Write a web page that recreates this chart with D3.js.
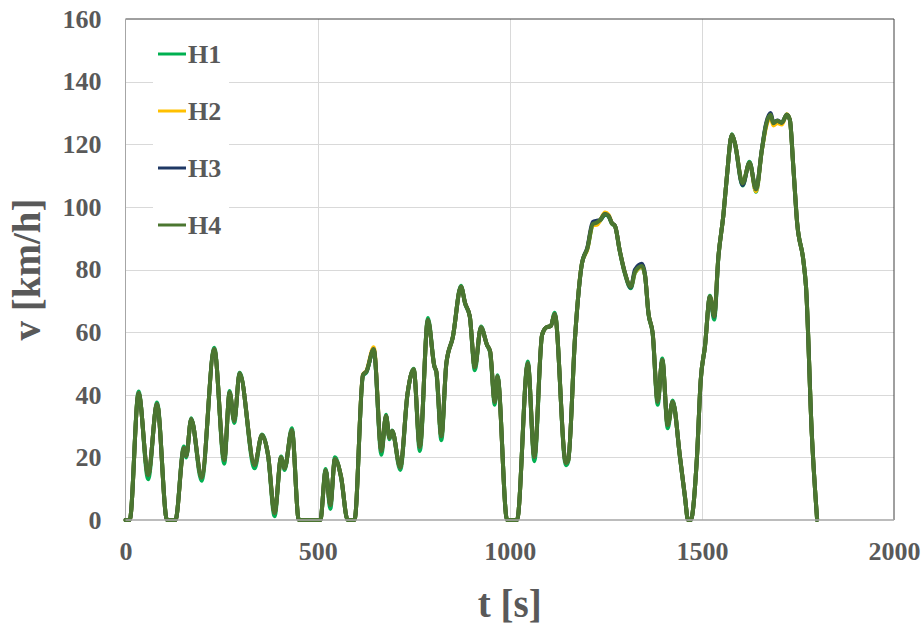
<!DOCTYPE html>
<html>
<head>
  <meta charset="utf-8">
  <title>Speed profile</title>
  <style>
    body { margin: 0; background: #fff; }
    svg { display: block; font-family: "Liberation Serif", "Times New Roman", serif; }
  </style>
</head>
<body>
  <svg id="chart"></svg>

  <script src="https://cdnjs.cloudflare.com/ajax/libs/d3/7.8.5/d3.min.js"></script>
  <script>
    // time axis shared by all four runs [s]
    const times = [
      0, 11, 34, 59, 82, 108, 130, 152, 158, 171,
      198, 231, 257, 271, 283, 297, 336, 355, 371, 388,
      405, 414, 433, 451, 507, 521, 533, 545, 561, 578,
      596, 618, 627, 646, 666, 678, 687, 694, 715, 734,
      750, 766, 787, 804, 809, 822, 835, 852, 873, 884,
      896, 909, 925, 941, 949, 961, 968, 993, 1019, 1047,
      1064, 1084, 1094, 1107, 1117, 1146, 1152, 1170, 1188, 1202,
      1216, 1227, 1235, 1248, 1257, 1266, 1274, 1286, 1300, 1315,
      1326, 1344, 1352, 1361, 1372, 1385, 1397, 1411, 1424, 1443,
      1456, 1464, 1471, 1487, 1497, 1508, 1521, 1532, 1543, 1556,
      1565, 1578, 1586, 1606, 1624, 1641, 1656, 1667, 1679, 1686,
      1696, 1708, 1721, 1729, 1738, 1748, 1764, 1771, 1786, 1800
    ];

    // speeds [km/h]
    const h1 = [
      0, 0, 41, 13, 37.5, 0, 0, 23.5, 20, 32.5,
      12.5, 55, 18, 41.2, 31, 47, 16.5, 27.3, 20.5, 1.2,
      20.3, 16, 29.3, 0, 0, 16.3, 3.5, 20, 13.5, 0,
      0, 46, 47.2, 54.5, 20.8, 33.6, 25.8, 28.6, 16, 40.2,
      48.3, 22, 64.5, 49, 47, 25.5, 50, 58.5, 74.8, 69,
      65, 47.8, 61.8, 55.8, 53.5, 36.8, 46.2, 0, 0, 50.6,
      18.8, 59, 61.4, 62, 66.2, 17.5, 18.6, 58.5, 82, 86.6,
      94.3, 95, 95.6, 97.5, 97, 94.6, 93.8, 86, 78.5, 74,
      79, 80.8, 78, 65.8, 59.4, 36.8, 51.6, 29.3, 38.2, 20,
      7.2, 0, 0, 19.7, 44.7, 55.4, 71.6, 64, 84, 97.4,
      109.5, 123.2, 120.2, 106.8, 114.4, 104.8, 118, 126, 129.2, 126.5,
      127.3, 126.7, 129.5, 127.8, 112.8, 94.8, 83, 74.5, 27.7, 0
    ];
    const h2 = [
      0, 0, 40.5, 14.4, 37, 0, 0, 22.9, 20.4, 32.2,
      13.6, 54.5, 19.2, 40.7, 31.7, 46.8, 17.6, 27.1, 20.8, 2.3,
      20, 16.5, 28.7, 0, 0, 15.8, 4.8, 19.4, 13.8, 0,
      0, 46.5, 47.6, 55.2, 22.1, 33.2, 26.3, 28.4, 16.8, 40.4,
      48.1, 23.4, 63.9, 49, 47.4, 26.8, 50, 58.5, 74.5, 69.2,
      65, 48.8, 61.5, 55.9, 53.8, 37.8, 45.8, 0, 0, 50,
      20.2, 59.1, 61.4, 62, 65.8, 18.3, 19, 58.5, 82, 86.5,
      94.2, 94.3, 95.6, 98.2, 97.5, 94.8, 93.9, 86.2, 78.8, 74.5,
      79.1, 80.9, 78.2, 66, 59.6, 37.8, 51.1, 30.3, 37.8, 20.2,
      7.4, 0, 0, 19.7, 44.7, 55.4, 71.3, 65.6, 84.1, 97.4,
      109.6, 123, 120.3, 107.3, 114.1, 105, 118, 125.5, 128.8, 126,
      126.8, 126.3, 129.6, 127.8, 112.8, 94.8, 83, 74.5, 27.7, 0
    ];
    const h3 = [
      0, 0, 40.5, 14.4, 37, 0, 0, 22.9, 20.4, 32.2,
      13.6, 54.5, 19.2, 40.7, 31.7, 46.8, 17.6, 27.1, 20.8, 2.3,
      20, 16.5, 28.7, 0, 0, 15.8, 4.8, 19.4, 13.8, 0,
      0, 46.3, 47.4, 54.5, 22.1, 33.2, 26.3, 28.4, 16.8, 40.4,
      48.1, 23.4, 63.9, 49, 47.4, 26.8, 50, 58.5, 74.5, 69.2,
      65, 48.8, 61.5, 55.9, 53.8, 37.8, 45.8, 0, 0, 50,
      20.2, 59.1, 61.4, 62, 65.8, 18.3, 19, 58.5, 82, 87,
      95.2, 95.6, 95.8, 97.7, 97.1, 94.8, 93.9, 86.2, 78.8, 74.3,
      80, 81.8, 78.4, 66, 59.6, 37.8, 51.1, 30.3, 37.8, 20.2,
      7.4, 0, 0, 19.7, 44.7, 55.4, 71.3, 65, 84.1, 97.4,
      109.6, 123, 120.3, 107, 114.1, 105.6, 118.2, 126.6, 130, 126.9,
      127.6, 126.9, 129.4, 127.8, 112.8, 94.8, 83, 74.5, 27.7, 0
    ];
    const h4 = [
      0, 0, 40.5, 14.4, 37, 0, 0, 22.9, 20.4, 32.2,
      13.6, 54.5, 19.2, 40.7, 31.7, 46.8, 17.6, 27.1, 20.8, 2.3,
      20, 16.5, 28.7, 0, 0, 15.8, 4.8, 19.4, 13.8, 0,
      0, 46.3, 47.4, 54.5, 22.1, 33.2, 26.3, 28.4, 16.8, 40.4,
      48.1, 23.4, 63.9, 49, 47.4, 26.8, 50, 58.5, 74.5, 69.2,
      65, 48.8, 61.5, 55.9, 53.8, 37.8, 45.8, 0, 0, 50,
      20.2, 59.1, 61.4, 62, 65.8, 18.3, 19, 58.5, 82, 86.8,
      94.5, 95, 95.8, 97.7, 97.1, 94.8, 93.9, 86.2, 78.8, 74.5,
      79.3, 81.1, 78.2, 66, 59.6, 37.8, 51.1, 30.3, 37.8, 20.2,
      7.4, 0, 0, 19.7, 44.7, 55.4, 71.3, 65, 84.1, 97.4,
      109.6, 123, 120.3, 107.5, 114.1, 105.6, 118.2, 126.2, 129.4, 126.7,
      127.5, 126.9, 129.4, 127.8, 112.8, 94.8, 83, 74.5, 27.7, 0
    ];

    const seriesNames = ["H1", "H2", "H3", "H4"];
    const seriesColors = ["#00b050", "#ffc000", "#1f3864", "#4b7630"];
    const seriesValues = [h1, h2, h3, h4];

    const xTicks = [0, 500, 1000, 1500, 2000];
    const yTicks = [0, 20, 40, 60, 80, 100, 120, 140, 160];

    const W = 924, H = 627;
    const plot = { left: 125.5, right: 894, top: 19, bottom: 520 };
    const textColor = "#595959";

    const svg = d3.select("#chart")
      .attr("width", W)
      .attr("height", H)
      .attr("viewBox", [0, 0, W, H]);

    const x = d3.scaleLinear().domain([0, 2000]).range([plot.left, plot.right]);
    const y = d3.scaleLinear().domain([0, 160]).range([plot.bottom, plot.top]);

    /** grid lines */
    const grid = svg.append("g").attr("stroke", "#d9d9d9").attr("stroke-width", 1);
    grid.selectAll(".gx")
      .data(xTicks.slice(1, -1))
      .join("line")
      .attr("x1", d => Math.round(x(d)) + 0.5)
      .attr("x2", d => Math.round(x(d)) + 0.5)
      .attr("y1", plot.top)
      .attr("y2", plot.bottom);
    grid.selectAll(".gy")
      .data(yTicks.slice(1, -1))
      .join("line")
      .attr("y1", d => Math.round(y(d)) + 0.5)
      .attr("y2", d => Math.round(y(d)) + 0.5)
      .attr("x1", plot.left)
      .attr("x2", plot.right);

    /** frame: dark top/right, grey left */
    svg.append("line").attr("x1", plot.left).attr("x2", plot.right).attr("y1", plot.top).attr("y2", plot.top)
      .attr("stroke", "#404040").attr("stroke-width", 1);
    svg.append("line").attr("x1", plot.right).attr("x2", plot.right).attr("y1", plot.top).attr("y2", plot.bottom)
      .attr("stroke", "#404040").attr("stroke-width", 1);
    svg.append("line").attr("x1", plot.left).attr("x2", plot.left).attr("y1", plot.top).attr("y2", plot.bottom)
      .attr("stroke", "#a6a6a6").attr("stroke-width", 1);

    /** legend background (sits over the grid) */
    svg.append("rect")
      .attr("x", 153).attr("y", 30)
      .attr("width", 76).attr("height", 220)
      .attr("fill", "#fff");

    /** the four runs, H4 drawn last */
    const line = d3.line()
      .x((d, i) => x(times[i]))
      .y(d => y(d))
      .curve(d3.curveMonotoneX);

    svg.append("g")
      .attr("fill", "none")
      .attr("stroke-width", 4)
      .attr("stroke-linejoin", "round")
      .attr("stroke-linecap", "round")
      .selectAll("path")
      .data(seriesValues)
      .join("path")
      .attr("stroke", (d, i) => seriesColors[i])
      .attr("d", d => line(d));

    /** bottom axis line */
    svg.append("line").attr("x1", plot.left).attr("x2", plot.right).attr("y1", plot.bottom).attr("y2", plot.bottom)
      .attr("stroke", "#a6a6a6").attr("stroke-width", 1.5);

    /** axes (labels only) */
    const xAxis = svg.append("g")
      .attr("transform", `translate(0,${plot.bottom})`)
      .call(d3.axisBottom(x).tickValues(xTicks).tickFormat(d3.format("d")).tickSize(0).tickPadding(22));
    const yAxis = svg.append("g")
      .attr("transform", `translate(${plot.left},0)`)
      .call(d3.axisLeft(y).tickValues(yTicks).tickFormat(d3.format("d")).tickSize(0).tickPadding(24));
    [xAxis, yAxis].forEach(g => {
      g.select(".domain").remove();
      g.selectAll("text")
        .attr("fill", textColor)
        .style("font-family", "'Liberation Serif', 'Times New Roman', serif")
        .style("font-size", "26px")
        .style("font-weight", "bold");
    });

    /** axis titles */
    svg.append("text")
      .attr("x", (plot.left + plot.right) / 2)
      .attr("y", 617)
      .attr("text-anchor", "middle")
      .attr("fill", textColor)
      .style("font-size", "39px")
      .style("font-weight", "bold")
      .text("t [s]");
    svg.append("text")
      .attr("transform", `translate(40,${(plot.top + plot.bottom) / 2}) rotate(-90)`)
      .attr("text-anchor", "middle")
      .attr("fill", textColor)
      .style("font-size", "39px")
      .style("font-weight", "bold")
      .text("v [km/h]");

    /** legend entries */
    const legend = svg.append("g")
      .selectAll("g")
      .data(seriesNames)
      .join("g")
      .attr("transform", (d, i) => `translate(158,${54 + i * 57})`);
    legend.append("line")
      .attr("x1", 0).attr("x2", 28)
      .attr("stroke", (d, i) => seriesColors[i])
      .attr("stroke-width", 3);
    legend.append("text")
      .attr("x", 30)
      .attr("dy", "0.34em")
      .attr("fill", textColor)
      .style("font-size", "26px")
      .style("font-weight", "bold")
      .text(d => d);
  </script>
</body>
</html>
